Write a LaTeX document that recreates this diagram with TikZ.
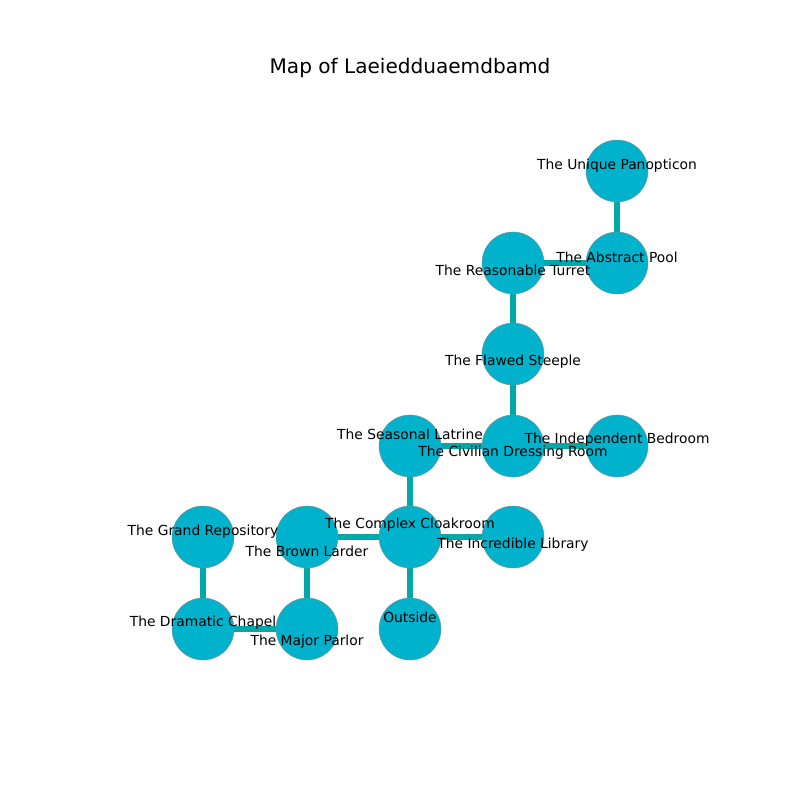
\documentclass[tikz,border=0pt]{standalone}
\usepackage{fontspec}
\setmainfont{DejaVu Sans}
\usetikzlibrary{backgrounds}

\begin{document}
\begin{tikzpicture}[x=0.01in,y=-0.01in]
  % Colors
  \definecolor{roomcolor}{HTML}{00B2CC}
  \definecolor{passagecolor}{HTML}{00A8A8}

  % Styles
  \tikzstyle{room}=[circle,fill=roomcolor,draw=black!45,line width=0.3pt,
    minimum size=0.62in,inner sep=0pt]
  \tikzstyle{passage}=[passagecolor,line width=4pt]
  \tikzstyle{room name}=[font=\fontsize{10}{12}\selectfont,inner sep=0pt]

  \useasboundingbox (0,0) rectangle (800,800);

  \node[font=\fontsize{14.5}{17}\selectfont] (title) at (410,68)
    {Map of Laeiedduaemdbamd};

  % The rooms
  \foreach \n/\x/\y in {
      pano/617/171, pool/617/263, turret/513/263, steeple/513/354,
      dressing/513/446, bedroom/617/446, latrine/410/446, cloak/410/537,
      library/513/537, outside/410/629, larder/307/537, parlor/307/629,
      repo/203/537, chapel/203/629}
    \node[room] (\n) at (\x,\y) {};

  % The passages
  \begin{scope}[on background layer]
    \foreach \a/\b in {pano/pool, pool/turret, turret/steeple,
        steeple/dressing, dressing/bedroom, dressing/latrine,
        latrine/cloak, cloak/library, cloak/outside, cloak/larder,
        larder/parlor, parlor/chapel, chapel/repo}
      \draw[passage] (\a.center) -- (\b.center);
  \end{scope}

  % The names
  \foreach \n/\dy/\t in {
      pano/-5/The Unique Panopticon,
      pool/-6/The Abstract Pool,
      turret/7/The Reasonable Turret,
      steeple/8/The Flawed Steeple,
      dressing/7/The Civilian Dressing Room,
      bedroom/-6/The Independent Bedroom,
      latrine/-12/The Seasonal Latrine,
      cloak/-12/The Complex Cloakroom,
      library/8/The Incredible Library,
      outside/-12/Outside,
      larder/14/The Brown Larder,
      parlor/13/The Major Parlor,
      repo/-5/The Grand Repository,
      chapel/-6/The Dramatic Chapel}
    \node[room name] (\n-name) at ([yshift=-\dy*0.01in]\n.center) {\t};
\end{tikzpicture}
\end{document}
